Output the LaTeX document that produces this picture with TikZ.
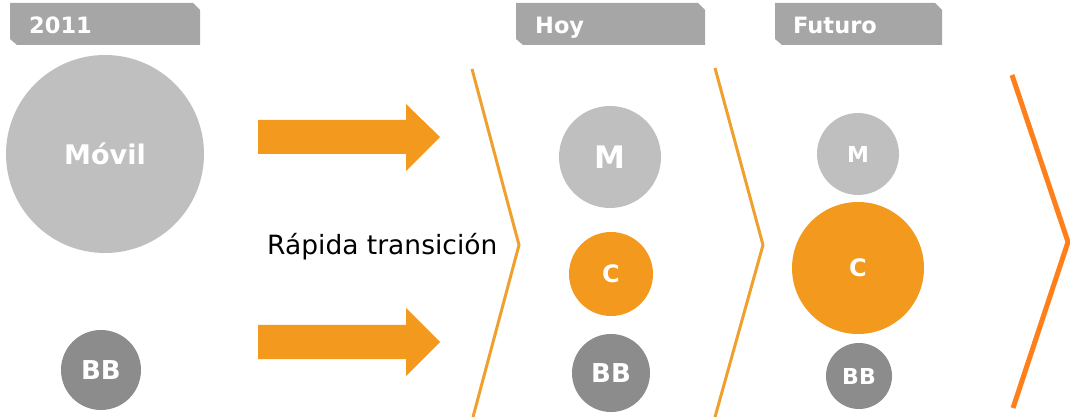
\documentclass[tikz,border=0pt]{standalone}
\usepackage{fontspec}
\setmainfont{DejaVu Sans}
\definecolor{tabgray}{HTML}{A6A6A6}
\definecolor{lightgray}{HTML}{BFBFBF}
\definecolor{darkgray}{HTML}{8C8C8C}
\definecolor{orangefill}{HTML}{F39A1E}
\definecolor{chevorange}{HTML}{EFA02E}
\definecolor{brightorange}{HTML}{FF7F1A}
\tikzset{
  tabshape/.style={fill=tabgray, draw=none},
  tabtext/.style={anchor=base west, text=white, font=\fontsize{22.5}{22.5}\selectfont\bfseries, inner sep=0pt},
  bubble/.style={circle, inner sep=0pt, draw=none, text=white, minimum size=#1},
  lbl/.style={font=\fontsize{#1}{#1}\selectfont\bfseries},
  chev/.style={draw=chevorange, line width=3pt},
  bigchev/.style={draw=brightorange, line width=5pt},
  fatarrow/.style={fill=orangefill, draw=none}
}
\begin{document}
\begin{tikzpicture}[x=1pt,y=-1pt]
\useasboundingbox (0,0) rectangle (1070,419);
% tabs
\fill[tabshape] (10,3) -- (193,3) -- (200,10) -- (200,45) -- (17,45) -- (10,39) -- cycle;
\fill[tabshape] (516,3) -- (698,3) -- (705,10) -- (705,45) -- (523,45) -- (516,39) -- cycle;
\fill[tabshape] (775,3) -- (935,3) -- (942,10) -- (942,45) -- (782,45) -- (775,39) -- cycle;
\node[tabtext] (t2011) at (29,34) {2011};
\node[tabtext] (thoy) at (535,34) {Hoy};
\node[tabtext] (tfut) at (793,34) {Futuro};
% 2011 column
\node[bubble=198pt, fill=lightgray, lbl=27] (movil) at (105,154) {Móvil};
\node[bubble=80pt, fill=darkgray, lbl=26] (bb0) at (101,370) {BB};
% arrows
\fill[fatarrow] (258,120) -- (406,120) -- (406,104) -- (440,137) -- (406,171) -- (406,154) -- (258,154) -- cycle;
\fill[fatarrow] (258,325) -- (406,325) -- (406,308) -- (440,342) -- (406,376) -- (406,359) -- (258,359) -- cycle;
\node[anchor=base west, inner sep=0pt, font=\fontsize{26.5}{26.5}\selectfont] (trans) at (267,255) {Rápida transición};
% chevrons
\draw[chev] (472,69) -- (519,245) -- (473,417);
\draw[chev] (715,68) -- (763,245) -- (715,417);
\draw[bigchev] (1012,75) -- (1068,242) -- (1013,408);
% Hoy column
\node[bubble=102pt, fill=lightgray, lbl=31] (mhoy) at (610,157) {M};
\node[bubble=84pt, fill=orangefill, lbl=24] (choy) at (611,274) {C};
\node[bubble=78pt, fill=darkgray, lbl=26] (bbhoy) at (611,373) {BB};
% Futuro column
\node[bubble=82pt, fill=lightgray, lbl=22] (mfut) at (858,154) {M};
\node[bubble=132pt, fill=orangefill, lbl=24] (cfut) at (858,268) {C};
\node[bubble=66pt, fill=darkgray, lbl=22] (bbfut) at (859,376) {BB};
\end{tikzpicture}
\end{document}
